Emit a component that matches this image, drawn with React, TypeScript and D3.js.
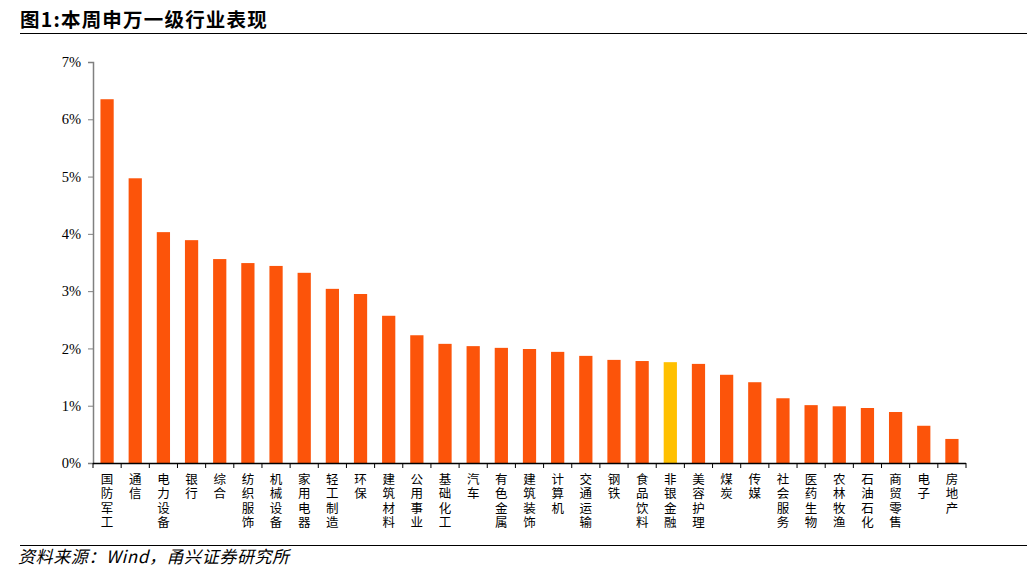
import React, { useEffect, useRef } from 'react';
import * as d3 from 'd3';

const industries = [
  '国防军工', '通信', '电力设备', '银行', '综合', '纺织服饰', '机械设备', '家用电器',
  '轻工制造', '环保', '建筑材料', '公用事业', '基础化工', '汽车', '有色金属', '建筑装饰',
  '计算机', '交通运输', '钢铁', '食品饮料', '非银金融', '美容护理', '煤炭', '传媒',
  '社会服务', '医药生物', '农林牧渔', '石油石化', '商贸零售', '电子', '房地产',
];

const weeklyReturn = [
  6.35, 4.97, 4.03, 3.89, 3.56, 3.49, 3.44, 3.32,
  3.04, 2.95, 2.57, 2.23, 2.08, 2.04, 2.01, 1.99,
  1.94, 1.87, 1.80, 1.78, 1.76, 1.73, 1.54, 1.41,
  1.13, 1.01, 0.99, 0.96, 0.89, 0.65, 0.42,
];

const highlight = ['非银金融'];
const yTicks = [0, 1, 2, 3, 4, 5, 6, 7];

const W = 1032;
const H = 575;
const CJK = '"Noto Sans CJK SC", sans-serif';
const SERIF = '"Liberation Serif", "Times New Roman", serif';

const App: React.FC = () => {
  const svgRef = useRef<SVGSVGElement>(null);

  useEffect(() => {
    if (!svgRef.current) return;
    const svg = d3.select(svgRef.current);
    svg.selectAll('*').remove();

    const margin = { top: 62, left: 93, right: 66, bottom: 112 };
    const width = W - margin.left - margin.right;
    const height = H - margin.top - margin.bottom;

    // title + rule
    svg.append('text')
      .attr('x', 20)
      .attr('y', 27)
      .style('font-family', CJK)
      .style('font-size', '19.5px')
      .style('font-weight', 'bold')
      .style('letter-spacing', '1.2px')
      .attr('fill', '#000')
      .text('图1:本周申万一级行业表现');
    svg.append('line')
      .attr('x1', 20).attr('x2', 1027)
      .attr('y1', 33.5).attr('y2', 33.5)
      .attr('stroke', '#000').attr('stroke-width', 1);

    const g = svg.append('g').attr('transform', `translate(${margin.left},${margin.top})`);

    const x = d3.scaleBand<string>()
      .domain(industries)
      .range([0, width])
      .paddingInner(0.53)
      .paddingOuter(0.265);

    const y = d3.scaleLinear().domain([0, 7]).range([height, 0]);

    // bars
    g.selectAll('rect.bar')
      .data(industries)
      .enter()
      .append('rect')
      .attr('class', 'bar')
      .attr('x', d => x(d)!)
      .attr('width', x.bandwidth())
      .attr('y', (_, i) => y(weeklyReturn[i]))
      .attr('height', (_, i) => height - y(weeklyReturn[i]))
      .attr('fill', d => (highlight.includes(d) ? '#FFC000' : '#FC540A'));

    // y axis
    const yAxis = g.append('g')
      .call(d3.axisLeft(y).tickValues(yTicks).tickSize(5).tickFormat(d => `${d}%`));
    yAxis.select('.domain').attr('stroke', '#808080').attr('stroke-width', 1.5);
    yAxis.selectAll('.tick line').attr('stroke', '#808080');
    yAxis.selectAll('.tick text')
      .attr('x', -12)
      .attr('fill', '#000')
      .style('font-family', SERIF)
      .style('font-size', '14.5px');

    // x axis: ticks at category boundaries
    const step = x.step();
    const x0 = x(industries[0])! - x.paddingInner() * step / 2;
    g.append('line')
      .attr('x1', 0).attr('x2', width)
      .attr('y1', height + 0.5).attr('y2', height + 0.5)
      .attr('stroke', '#000').attr('stroke-width', 1.5);
    g.selectAll('line.xtick')
      .data(d3.range(industries.length + 1))
      .enter()
      .append('line')
      .attr('class', 'xtick')
      .attr('x1', i => Math.min(x0 + i * step, width))
      .attr('x2', i => Math.min(x0 + i * step, width))
      .attr('y1', height).attr('y2', height + 5)
      .attr('stroke', '#000');

    // vertical stacked labels, one character per text
    const chars = industries.flatMap(d =>
      d.split('').map((ch, k) => ({ d, ch, k }))
    );
    g.selectAll('text.xlabel')
      .data(chars)
      .enter()
      .append('text')
      .attr('class', 'xlabel')
      .attr('text-anchor', 'middle')
      .attr('x', c => x(c.d)! + x.bandwidth() / 2)
      .attr('y', c => height + 21 + c.k * 14.3)
      .style('font-family', CJK)
      .style('font-size', '12.5px')
      .attr('fill', '#000')
      .text(c => c.ch);

    // source rule + note
    svg.append('line')
      .attr('x1', 20).attr('x2', 1027)
      .attr('y1', 545.5).attr('y2', 545.5)
      .attr('stroke', '#000').attr('stroke-width', 1);
    svg.append('text')
      .attr('x', 18)
      .attr('y', 563)
      .style('font-family', CJK)
      .style('font-size', '17px')
      .style('font-style', 'italic')
      .style('letter-spacing', '0.6px')
      .attr('fill', '#000')
      .text('资料来源：Wind，甬兴证券研究所');
  }, []);

  return (
    <svg
      ref={svgRef}
      width={W}
      height={H}
      style={{ position: 'absolute', left: 0, top: 0, background: '#fff' }}
    />
  );
};

export default App;
